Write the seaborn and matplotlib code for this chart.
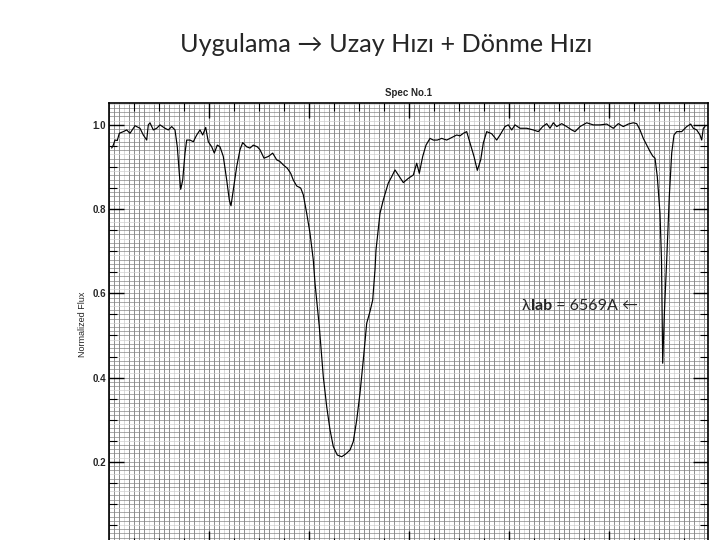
import numpy as np
import pandas as pd
import matplotlib
matplotlib.use("Agg")
import matplotlib.pyplot as plt
import seaborn as sns

# spectrum (wavelength in A, normalized flux)
wave = [6530.27, 6530.43, 6530.6, 6530.83, 6531.03, 6531.43, 6531.77, 6532.1, 6532.6, 6533.1,
        6533.43, 6533.77, 6533.93, 6534.1, 6534.43, 6534.77, 6535.1, 6535.6, 6535.93, 6536.27,
        6536.6, 6536.83, 6537.03, 6537.17, 6537.37, 6537.6, 6537.77, 6538.1, 6538.43, 6538.77,
        6539.1, 6539.37, 6539.67, 6539.93, 6540.27, 6540.53, 6540.83, 6541.1, 6541.43, 6541.77,
        6542.03, 6542.2, 6542.43, 6542.77, 6543.1, 6543.37, 6543.77, 6544.1, 6544.43, 6544.83,
        6545.1, 6545.5, 6545.93, 6546.37, 6546.77, 6547.1, 6547.43, 6547.83, 6548.17, 6548.43,
        6548.77, 6549.17, 6549.43, 6549.77, 6550.1, 6550.43, 6550.6, 6551.03, 6551.43, 6551.77,
        6552.1, 6552.43, 6552.83, 6553.27, 6553.7, 6554.1, 6554.43, 6554.77, 6555.1, 6555.43,
        6555.77, 6556.1, 6556.37, 6556.6, 6556.7, 6557.1, 6557.43, 6557.93, 6558.27, 6558.6,
        6558.93, 6559.43, 6559.93, 6560.43, 6560.77, 6561.03, 6561.37, 6561.7, 6562.1, 6562.43,
        6562.83, 6563.27, 6563.77, 6564.27, 6564.77, 6565.1, 6565.43, 6565.77, 6566.1, 6566.5,
        6566.83, 6567.17, 6567.43, 6567.77, 6568.27, 6568.77, 6569.1, 6569.6, 6569.93, 6570.27,
        6570.6, 6571.1, 6571.77, 6572.43, 6572.93, 6573.37, 6573.77, 6574.1, 6574.43, 6574.77,
        6575.27, 6575.77, 6576.27, 6576.6, 6577.1, 6577.77, 6578.43, 6579.1, 6579.77, 6580.43,
        6580.93, 6581.43, 6581.93, 6582.43, 6582.77, 6583.1, 6583.43, 6583.77, 6584.1, 6584.37,
        6584.6, 6584.83, 6585.1, 6585.25, 6585.37, 6585.55, 6585.77, 6586.03, 6586.27, 6586.5,
        6586.77, 6587.27, 6587.77, 6588.17, 6588.43, 6588.77, 6589.1, 6589.27, 6589.43, 6589.6]
flux = [0.945, 0.952, 0.964, 0.963, 0.980, 0.984, 0.988, 0.980, 0.998, 0.992,
        0.976, 0.964, 1.000, 1.005, 0.988, 0.992, 1.000, 0.992, 0.988, 0.996,
        0.988, 0.948, 0.885, 0.847, 0.869, 0.933, 0.964, 0.964, 0.960, 0.976,
        0.988, 0.976, 0.994, 0.960, 0.948, 0.933, 0.952, 0.948, 0.925, 0.869,
        0.822, 0.808, 0.846, 0.901, 0.941, 0.958, 0.948, 0.945, 0.952, 0.948,
        0.941, 0.921, 0.925, 0.933, 0.917, 0.913, 0.905, 0.897, 0.885, 0.869,
        0.855, 0.850, 0.834, 0.790, 0.743, 0.679, 0.624, 0.521, 0.402, 0.331,
        0.276, 0.236, 0.216, 0.212, 0.219, 0.228, 0.248, 0.299, 0.363, 0.442,
        0.529, 0.557, 0.584, 0.656, 0.703, 0.790, 0.822, 0.862, 0.877, 0.893,
        0.881, 0.863, 0.873, 0.881, 0.909, 0.885, 0.925, 0.952, 0.968, 0.964,
        0.964, 0.968, 0.964, 0.970, 0.976, 0.974, 0.980, 0.984, 0.957, 0.925,
        0.892, 0.917, 0.957, 0.984, 0.979, 0.964, 0.976, 0.996, 1.000, 0.988,
        1.000, 0.992, 0.992, 0.988, 0.984, 0.996, 1.003, 0.992, 1.005, 0.996,
        1.003, 0.996, 0.988, 0.984, 0.996, 1.005, 1.000, 1.000, 1.002, 0.992,
        1.003, 0.996, 1.002, 1.005, 1.003, 0.988, 0.968, 0.952, 0.937, 0.926,
        0.921, 0.877, 0.790, 0.679, 0.434, 0.560, 0.679, 0.830, 0.933, 0.976,
        0.984, 0.984, 0.996, 1.002, 0.992, 0.988, 0.976, 0.964, 0.992, 0.996]

slide_title = "Uygulama \u2192 Uzay H\u0131z\u0131 + D\u00f6nme H\u0131z\u0131"
plot_title = "Spec No.1"
y_label = "Normalized Flux"
y_ticks = [0.2, 0.4, 0.6, 0.8, 1.0]

sns.set_style("white")
plt.rcParams["font.family"] = ["Liberation Sans", "DejaVu Sans"]
slide_font = ["Lato", "DejaVu Sans"]

df = pd.DataFrame({"wave": wave, "flux": flux})

fig = plt.figure(figsize=(7.2, 5.4), dpi=100)
ax = fig.add_axes([109 / 720, -6 / 540, 599 / 720, 443 / 540])

# graph paper background
for i, xv in enumerate(np.arange(6530, 6590, 0.5)):
    shade = "#d0d0d0" if i % 5 == 3 else "#707070"
    ax.axvline(xv, color=shade, lw=0.55, zorder=0)
for i, yv in enumerate(np.arange(0, 1.06, 0.01)):
    shade = "#d0d0d0" if i % 4 == 1 else "#858585"
    ax.axhline(yv, color=shade, lw=0.5, zorder=0)

sns.lineplot(data=df, x="wave", y="flux", color="black", lw=0.85,
             estimator=None, sort=False, ax=ax, zorder=3)

ax.set_xlim(6530, 6589.9)
ax.set_ylim(0, 1.052)
ax.set_yticks(y_ticks)
ax.set_yticklabels([f"{v:.1f}" for v in y_ticks], fontsize=7, fontweight="bold")
ax.set_yticks(np.arange(0.05, 1.05, 0.05), minor=True)
ax.set_xticks(np.arange(6540, 6590, 10))
ax.set_xticks(np.arange(6532.5, 6590, 2.5), minor=True)
ax.set_xticklabels([])
ax.tick_params(which="major", direction="in", length=11, width=1, color="black",
               top=True, right=True, left=True, bottom=True, pad=2)
ax.tick_params(which="minor", direction="in", length=6, width=0.8, color="black",
               top=True, right=True, left=True, bottom=True)
for sp in ax.spines.values():
    sp.set_visible(True)
    sp.set_color("black")
    sp.set_linewidth(1.2)

ax.set_xlabel("")
ax.set_ylabel(y_label, fontsize=6.5, labelpad=4)
ax.set_title(plot_title, fontsize=7, fontweight="bold", pad=5)

fig.text(0.536, 0.918, slide_title, ha="center", va="center", fontsize=18.2,
         family=slide_font)

# lambda_lab label laid over the plot
t1 = fig.text(522 / 720, 1 - 306 / 540, "\u03bb", ha="left", va="center",
              fontsize=11.5, family=slide_font)
t2 = ax.annotate("lab", xy=(1, 0), xycoords=t1, va="bottom", ha="left",
                 fontsize=11.5, fontweight="bold", family=slide_font)
ax.annotate(" = 6569A \u2190", xy=(1, 0), xycoords=t2, va="bottom", ha="left",
            fontsize=11.5, family=slide_font)

fig.savefig("out.png", dpi=100, facecolor="white")
